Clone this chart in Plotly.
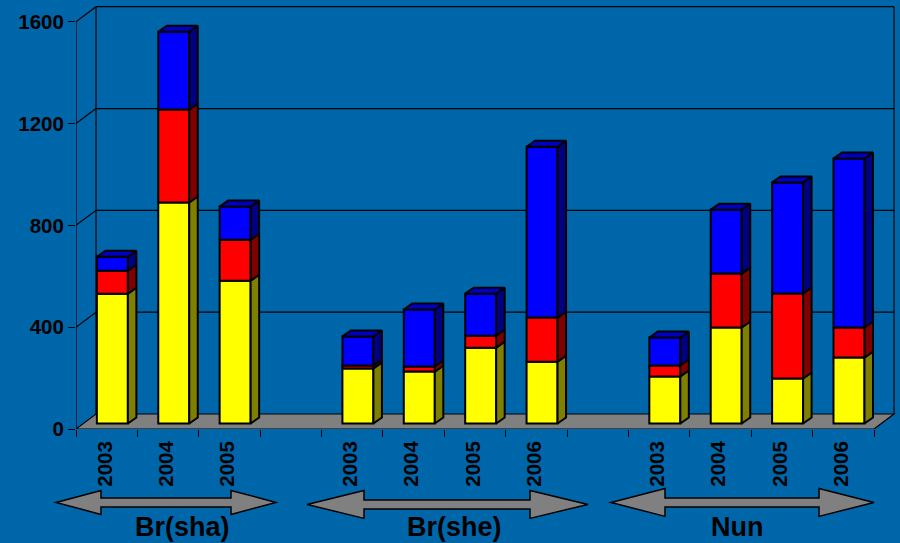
import plotly.graph_objects as go

# ---- data ----
years = ["2003", "2004", "2005", "2003", "2004", "2005", "2006", "2003", "2004", "2005", "2006"]
slots = [0, 1, 2, 4, 5, 6, 7, 9, 10, 11, 12]
yellow = [510, 868, 561, 216, 204, 298, 243, 185, 377, 177, 259]
red = [90, 365, 161, 12, 20, 47, 173, 43, 212, 334, 118]
blue = [55, 306, 130, 114, 224, 165, 671, 110, 251, 436, 664]
y_ticks = [0, 400, 800, 1200, 1600]
groups = ["Br(sha)", "Br(she)", "Nun"]

W, H = 900, 543
X0, X13 = 76.0, 874.0
Y0, Y1600 = 429.5, 21.7
PLOT_R, PLOT_T = 897.0, 3.0
ux = (X13 - X0) / 13
uy = (Y0 - Y1600) / 1600
x_max = (PLOT_R - X0) / ux
y_max = (Y0 - PLOT_T) / uy

wall_dx, wall_dy = 20 / ux, 15 / uy
bar_dx, bar_dy = 8.5 / ux, 6 / uy
bar_start, bar_w, bar_lift = 0.34, 31 / ux, 5.5 / uy
BG = "#0066AA"
LW = 2
GRID_W = 1.2


def paper_x(px):
    return (px - X0) / (PLOT_R - X0)


def paper_y(px):
    return (Y0 - px) / (Y0 - PLOT_T)


fig = go.Figure()

bottoms = [bar_lift] * len(slots)
stack = []
for values, front, side in [(yellow, "#FFFF00", "#808000"), (red, "#FF0000", "#800000"), (blue, "#0000FF", "#000080")]:
    tops = [b + v for b, v in zip(bottoms, values)]
    stack.append((values, list(bottoms), tops, front, side))
    bottoms = tops

for values, base, tops, front, side in stack:
    fig.add_trace(go.Bar(
        x=slots, y=values, base=base, width=bar_w, offset=bar_start,
        marker=dict(color=front, line=dict(color="black", width=LW)), hoverinfo="skip",
    ))

for values, base, tops, front, side in stack:
    xs, ys = [], []
    for s, b, t in zip(slots, base, tops):
        r = s + bar_start + bar_w
        xs += [r, r + bar_dx, r + bar_dx, r, r, None]
        ys += [b, b + bar_dy, t + bar_dy, t, b, None]
    fig.add_trace(go.Scatter(
        x=xs, y=ys, mode="lines", fill="toself", fillcolor=side,
        line=dict(color="black", width=LW), hoverinfo="skip",
    ))

xs, ys = [], []
for s, t in zip(slots, stack[-1][2]):
    l = s + bar_start
    r = l + bar_w
    xs += [l, r, r + bar_dx, l + bar_dx, l, None]
    ys += [t, t, t + bar_dy, t + bar_dy, t, None]
fig.add_trace(go.Scatter(
    x=xs, y=ys, mode="lines", fill="toself", fillcolor="#0000C0",
    line=dict(color="black", width=LW), hoverinfo="skip",
))

shapes = []
black = dict(color="black", width=GRID_W)


def seg(x0, y0, x1, y1):
    shapes.append(dict(type="line", xref="x", yref="y", x0=x0, y0=y0, x1=x1, y1=y1,
                       line=black, layer="below"))


# walls and grid
seg(0, 0, 0, y_ticks[-1])
seg(wall_dx, wall_dy, wall_dx, y_ticks[-1] + wall_dy)
seg(13 + wall_dx, wall_dy, 13 + wall_dx, y_ticks[-1] + wall_dy)
for v in y_ticks[1:]:
    seg(0, v, wall_dx, v + wall_dy)
    seg(wall_dx, v + wall_dy, 13 + wall_dx, v + wall_dy)
# floor
shapes.append(dict(
    type="path", xref="x", yref="y", layer="below", fillcolor="#808080", line=black,
    path=f"M0,0 L13,0 L{13 + wall_dx},{wall_dy} L{wall_dx},{wall_dy} Z",
))

# group arrows
arrow_spans = [(56, 276, 101, 231, 12, 503), (307, 588, 364, 530, 14, 505), (611, 874, 665, 819, 14, 503)]
SHAFT = 4.5
for tip_l, tip_r, head_l, head_r, HEAD, CY in arrow_spans:
    pts = [(tip_l, CY), (head_l, CY - HEAD), (head_l, CY - SHAFT), (head_r, CY - SHAFT),
           (head_r, CY - HEAD), (tip_r, CY), (head_r, CY + HEAD), (head_r, CY + SHAFT),
           (head_l, CY + SHAFT), (head_l, CY + HEAD)]
    path = "M" + " L".join(f"{paper_x(a):.5f},{paper_y(b):.5f}" for a, b in pts) + " Z"
    shapes.append(dict(type="path", xref="paper", yref="paper", path=path,
                       fillcolor="#808080", line=dict(color="black", width=1.5)))

annotations = []
for name, cx in zip(groups, [182, 454, 737]):
    annotations.append(dict(
        text=name, xref="paper", yref="paper", x=paper_x(cx), y=paper_y(528), showarrow=False,
        xanchor="center", yanchor="middle",
        font=dict(family="Liberation Sans", size=27, color="black", weight=700),
    ))

tick_font = dict(family="Liberation Sans", size=20.5, color="black", weight=700)
fig.update_layout(
    width=W, height=H, showlegend=False, barmode="overlay",
    paper_bgcolor=BG, plot_bgcolor=BG,
    margin=dict(l=X0, r=W - PLOT_R, t=PLOT_T, b=H - Y0, pad=0, autoexpand=False),
    shapes=shapes, annotations=annotations,
    xaxis=dict(
        range=[0, x_max], showgrid=False, zeroline=False, showline=False,
        tickmode="array", tickvals=[s + 0.47 for s in slots], ticktext=years,
        tickangle=-90, ticks="", tickfont=tick_font, ticklabelstandoff=7,
        minor=dict(tickmode="array", tickvals=list(range(14)), ticks="outside",
                   ticklen=7, tickwidth=1.2, tickcolor="black", showgrid=False),
    ),
    yaxis=dict(
        range=[0, y_max], showgrid=False, zeroline=False, showline=False,
        tickmode="array", tickvals=y_ticks, ticks="outside", ticklen=7, tickwidth=1.2,
        tickcolor="black", tickfont=tick_font,
    ),
)

fig.write_html(
    "out.html",
    config={"displayModeBar": False},
    post_script="document.body.style.margin='0';document.body.style.overflow='hidden';document.body.style.background='" + BG + "';",
)
